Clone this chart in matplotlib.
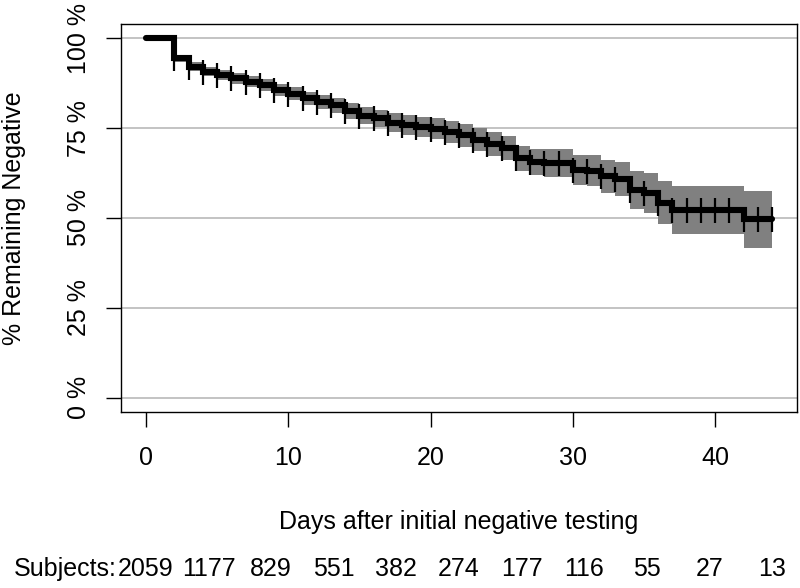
import matplotlib
matplotlib.use('Agg')
import matplotlib.pyplot as plt
import matplotlib.transforms as mtransforms

plt.rcParams['font.family'] = ['Liberation Sans', 'DejaVu Sans']

# ---- data ----
times = [0, 2, 3, 4, 5, 6, 7, 8, 9, 10, 11, 12, 13, 14, 15, 16, 17, 18, 19, 20,
         21, 22, 23, 24, 25, 26, 27, 28, 29, 30, 31, 32, 33, 34, 35, 36, 37, 38,
         39, 40, 41, 42, 43, 44]
surv = [100, 94.4, 92.1, 90.7, 89.8, 88.9, 87.9, 87.0, 85.7, 84.6, 83.3, 82.3,
        81.4, 79.8, 78.5, 77.7, 76.5, 75.9, 75.3, 74.8, 73.9, 73.0, 71.8, 70.6,
        69.5, 66.6, 65.6, 65.2, 65.2, 63.4, 63.2, 61.6, 60.9, 57.8, 57.0, 54.3,
        52.2, 52.2, 52.2, 52.2, 52.2, 49.6, 49.6, 49.6]
upper = [100, 95.4, 93.3, 92.0, 91.2, 90.4, 89.4, 88.6, 87.4, 86.4, 85.2, 84.3,
         83.5, 82.0, 80.9, 80.2, 79.1, 78.6, 78.1, 77.7, 76.9, 76.1, 75.0, 73.9,
         72.9, 70.1, 69.2, 69.1, 69.1, 67.6, 67.6, 66.2, 65.6, 63.1, 62.5, 60.3,
         58.9, 58.9, 58.9, 58.9, 58.9, 57.6, 57.6, 57.6]
lower = [100, 93.4, 90.9, 89.4, 88.4, 87.4, 86.4, 85.4, 84.0, 82.8, 81.4, 80.3,
         79.3, 77.6, 76.1, 75.2, 73.9, 73.2, 72.5, 71.9, 70.9, 69.9, 68.6, 67.3,
         66.1, 63.1, 62.0, 61.3, 61.3, 59.2, 58.8, 57.0, 56.2, 52.5, 51.5, 48.3,
         45.5, 45.5, 45.5, 45.5, 45.5, 41.6, 41.6, 41.6]
censor_times = [2, 3, 4, 5, 6, 7, 8, 9, 10, 11, 12, 13, 14, 15, 16, 17, 18, 19,
                20, 21, 22, 23, 24, 25, 26, 27, 28, 29, 30, 31, 32, 33, 34, 35,
                36, 37, 38, 39, 40, 41, 42, 43, 44]
y_ticks = [0, 25, 50, 75, 100]
y_tick_labels = ['0 %', '25 %', '50 %', '75 %', '100 %']
x_ticks = [0, 10, 20, 30, 40]
x_tick_labels = ['0', '10', '20', '30', '40']
subject_times = [0, 4.4, 8.8, 13.2, 17.6, 22, 26.4, 30.8, 35.2, 39.6, 44]
subject_counts = [2059, 1177, 829, 551, 382, 274, 177, 116, 55, 27, 13]
x_label = 'Days after initial negative testing'
y_label = '% Remaining Negative'
subjects_label = 'Subjects:'

# ---- figure ----
W, H = 800, 588
fig = plt.figure(figsize=(W / 100, H / 100), dpi=100)
ax = fig.add_axes([121 / W, (H - 412) / H, (797 - 121) / W, (412 - 24) / H])
ax.set_xlim(-1.76, 45.76)
ax.set_ylim(-4, 104)

FS = 18

for y in y_ticks:
    ax.axhline(y, color='#BEBEBE', lw=1.3, zorder=1)

ax.fill_between(times, lower, upper, step='post', color='#808080', lw=0, zorder=2)
ax.step(times, surv, where='post', color='black', lw=4.4, zorder=3,
        solid_joinstyle='miter', solid_capstyle='round')

lookup = dict(zip(times, surv))
censor_surv = [lookup[t] for t in censor_times]
ax.plot(censor_times, censor_surv, ls='none', marker='|', ms=18, mew=1.6,
        color='black', zorder=4)

for s in ax.spines.values():
    s.set_linewidth(1.0)
    s.set_color('black')

ax.set_xticks(x_ticks, x_tick_labels, fontsize=FS)
ax.set_yticks(y_ticks, y_tick_labels, fontsize=FS, rotation=90, va='center')
ax.tick_params(axis='both', direction='out', length=10.8, width=1.0, color='black')
ax.tick_params(axis='x', pad=14)
ax.tick_params(axis='y', pad=11)

fig.text(459 / W, 1 - 522 / H, x_label, ha='center', va='center', fontsize=FS)
fig.text(14 / W, 1 - 218 / H, y_label, ha='center', va='center', rotation=90,
         fontsize=FS)

trans = mtransforms.blended_transform_factory(ax.transData, fig.transFigure)
for t, c in zip(subject_times, subject_counts):
    fig.text(t, 1 - 569 / H, str(c), ha='center', va='center', fontsize=FS,
             transform=trans)
fig.text(117 / W, 1 - 569 / H, subjects_label, ha='right', va='center', fontsize=FS)

fig.savefig('out.png', dpi=100)
